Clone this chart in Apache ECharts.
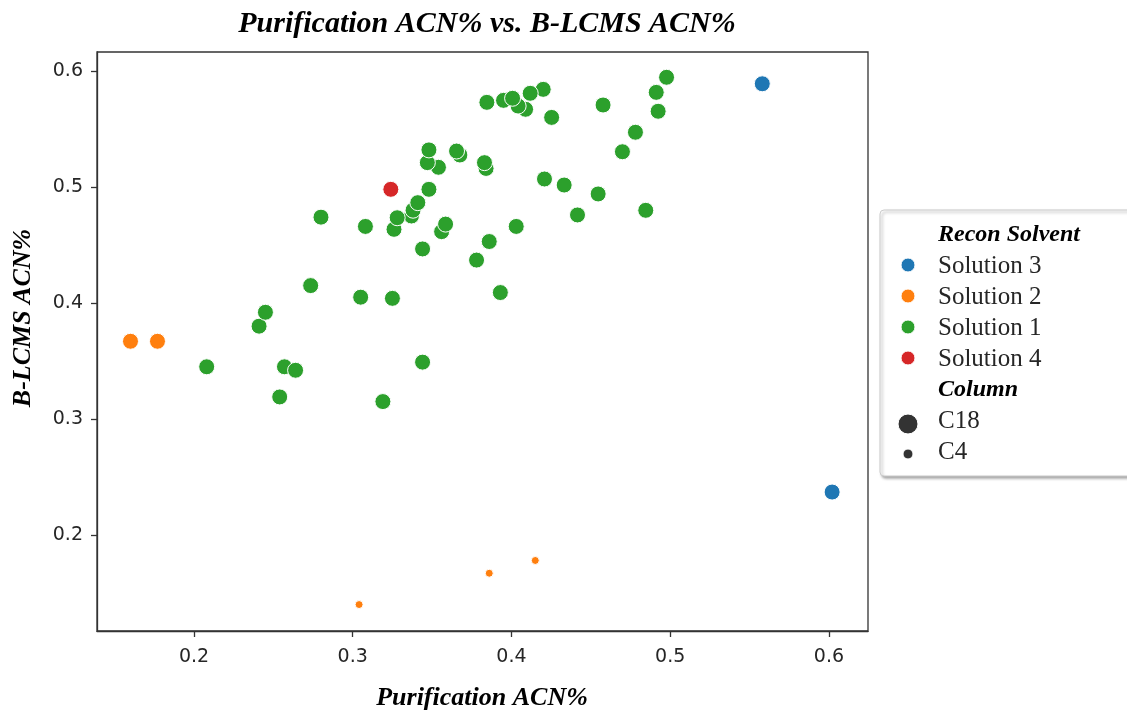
<!DOCTYPE html>
<html>
<head>
<meta charset="utf-8">
<script src="https://cdn.jsdelivr.net/npm/echarts@6/dist/echarts.min.js"></script>
<style>html,body{margin:0;padding:0;background:#fff}#c{width:1127px;height:712px}</style>
</head>
<body>
<div id="c"></div>
<script>
// ---- data ----
const xTicks = [0.2, 0.3, 0.4, 0.5, 0.6];
const yTicks = [0.2, 0.3, 0.4, 0.5, 0.6];
const solutionOrder = ['Solution 3', 'Solution 2', 'Solution 1', 'Solution 4'];
const solutionColors = ['#1f77b4', '#ff7f0e', '#2ca02c', '#d62728'];
const columnOrder = ['C18', 'C4'];
// [purification ACN%, B-LCMS ACN%, column]
const solution3 = [[0.558, 0.589, 'C18'], [0.602, 0.237, 'C18']];
const solution2 = [[0.160, 0.367, 'C18'], [0.177, 0.367, 'C18'], [0.304, 0.140, 'C4'], [0.386, 0.167, 'C4'], [0.415, 0.178, 'C4']];
const solution1 = [
  [0.208, 0.345, 'C18'], [0.241, 0.380, 'C18'], [0.245, 0.392, 'C18'], [0.257, 0.345, 'C18'],
  [0.264, 0.342, 'C18'], [0.254, 0.319, 'C18'], [0.2735, 0.415, 'C18'], [0.305, 0.405, 'C18'],
  [0.325, 0.404, 'C18'], [0.344, 0.349, 'C18'], [0.319, 0.315, 'C18'], [0.280, 0.474, 'C18'],
  [0.308, 0.466, 'C18'], [0.326, 0.4635, 'C18'], [0.337, 0.475, 'C18'], [0.338, 0.480, 'C18'],
  [0.328, 0.4735, 'C18'], [0.341, 0.4865, 'C18'], [0.348, 0.498, 'C18'], [0.344, 0.4466, 'C18'],
  [0.356, 0.4615, 'C18'], [0.3585, 0.468, 'C18'], [0.354, 0.517, 'C18'], [0.347, 0.521, 'C18'],
  [0.348, 0.532, 'C18'], [0.3675, 0.5276, 'C18'], [0.3654, 0.531, 'C18'], [0.384, 0.516, 'C18'],
  [0.383, 0.521, 'C18'], [0.378, 0.437, 'C18'], [0.386, 0.453, 'C18'], [0.393, 0.409, 'C18'],
  [0.403, 0.466, 'C18'], [0.3845, 0.573, 'C18'], [0.4089, 0.567, 'C18'], [0.4042, 0.5698, 'C18'],
  [0.395, 0.5747, 'C18'], [0.4007, 0.5765, 'C18'], [0.420, 0.5842, 'C18'], [0.4118, 0.5808, 'C18'],
  [0.4253, 0.560, 'C18'], [0.4577, 0.5707, 'C18'], [0.4977, 0.5946, 'C18'], [0.4912, 0.5816, 'C18'],
  [0.4924, 0.5653, 'C18'], [0.4781, 0.5472, 'C18'], [0.4699, 0.5304, 'C18'], [0.4208, 0.5069, 'C18'],
  [0.4332, 0.5017, 'C18'], [0.4546, 0.494, 'C18'], [0.4416, 0.4759, 'C18'], [0.4846, 0.4799, 'C18']
];
const solution4 = [[0.324, 0.498, 'C18']];
const seriesData = [solution3, solution2, solution1, solution4];

// ---- chart ----
const serif = "'Liberation Serif', 'DejaVu Serif', serif";
const sans = "'DejaVu Sans', sans-serif";
const chart = echarts.init(document.getElementById('c'), null, {renderer: 'canvas'});

const grid = {left: 97, right: 259, top: 52, bottom: 81};
const sizeOf = v => (v[2] === 'C4' ? 8 : 16);

const series = solutionOrder.map((name, i) => ({
  name: name,
  type: 'scatter',
  data: seriesData[i],
  symbol: 'circle',
  symbolSize: sizeOf,
  itemStyle: {color: solutionColors[i], borderColor: '#ffffff', borderWidth: 1, opacity: 1},
  emphasis: {disabled: true},
  z: 3
}));

// legend drawn as graphic
const lgX = 880, lgY = 210;
const legendEls = [];
legendEls.push({type: 'rect', shape: {x: lgX, y: lgY, width: 260, height: 266, r: 4},
  style: {fill: '#ffffff', stroke: '#cccccc', lineWidth: 1, shadowBlur: 3, shadowOffsetX: 2, shadowOffsetY: 2, shadowColor: 'rgba(0,0,0,0.35)'}, z: 10});
const rowY = [235, 266, 297, 328, 359, 390, 421, 452];
const textX = 938, markX = 908;
const headFont = 'italic bold 24px ' + serif;
const itemFont = '25px ' + serif;
legendEls.push({type: 'text', x: textX, y: rowY[0], style: {text: 'Recon Solvent', font: headFont, fill: '#000', textVerticalAlign: 'middle'}, z: 11});
solutionOrder.forEach((n, i) => {
  legendEls.push({type: 'circle', shape: {cx: markX, cy: rowY[i + 1] - 1, r: 7}, style: {fill: solutionColors[i], stroke: '#fff', lineWidth: 1}, z: 11});
  legendEls.push({type: 'text', x: textX, y: rowY[i + 1], style: {text: n, font: itemFont, fill: '#262626', textVerticalAlign: 'middle'}, z: 11});
});
legendEls.push({type: 'text', x: textX, y: rowY[5], style: {text: 'Column', font: headFont, fill: '#000', textVerticalAlign: 'middle'}, z: 11});
const colR = [10, 5];
columnOrder.forEach((n, i) => {
  legendEls.push({type: 'circle', shape: {cx: markX, cy: rowY[6 + i] + (i === 0 ? 3 : 2), r: colR[i]}, style: {fill: '#333333', stroke: '#fff', lineWidth: 1}, z: 11});
  legendEls.push({type: 'text', x: textX, y: rowY[6 + i], style: {text: n, font: itemFont, fill: '#262626', textVerticalAlign: 'middle'}, z: 11});
});

// axis titles
legendEls.push({type: 'text', x: 482, y: 698, style: {text: 'Purification ACN%', font: 'italic bold 26px ' + serif, fill: '#000', textAlign: 'center', textVerticalAlign: 'middle'}, z: 5});
legendEls.push({type: 'text', x: 23, y: 318, rotation: Math.PI / 2, style: {text: 'B-LCMS ACN%', font: 'italic bold 26px ' + serif, fill: '#000', textAlign: 'center', textVerticalAlign: 'middle'}, z: 5});

const axisCommon = {
  type: 'value',
  scale: true,
  splitLine: {show: false},
  axisLine: {show: true, onZero: false, lineStyle: {color: '#333', width: 1.3}},
  axisTick: {show: true, length: 6, lineStyle: {color: '#333', width: 1.3}},
  axisLabel: {color: '#262626', fontFamily: sans, fontSize: 19, formatter: v => v.toFixed(1)}
};

chart.setOption({
  animation: false,
  backgroundColor: '#ffffff',
  title: {
    text: 'Purification ACN% vs. B-LCMS ACN%',
    left: 482, top: 4, textAlign: 'center',
    textStyle: {fontFamily: serif, fontStyle: 'italic', fontWeight: 'bold', fontSize: 30, color: '#000'}
  },
  grid: Object.assign({show: true, borderColor: '#333', borderWidth: 1.3, backgroundColor: 'transparent'}, grid),
  xAxis: Object.assign({}, axisCommon, {
    min: 0.1389, max: 0.6246,
    axisTick: Object.assign({}, axisCommon.axisTick, {customValues: xTicks}),
    axisLabel: Object.assign({}, axisCommon.axisLabel, {customValues: xTicks, margin: 17})
  }),
  yAxis: Object.assign({}, axisCommon, {
    min: 0.1172, max: 0.6164,
    axisTick: Object.assign({}, axisCommon.axisTick, {customValues: yTicks}),
    axisLabel: Object.assign({}, axisCommon.axisLabel, {customValues: yTicks, margin: 14})
  }),
  graphic: legendEls,
  series: series
});
</script>
</body>
</html>
